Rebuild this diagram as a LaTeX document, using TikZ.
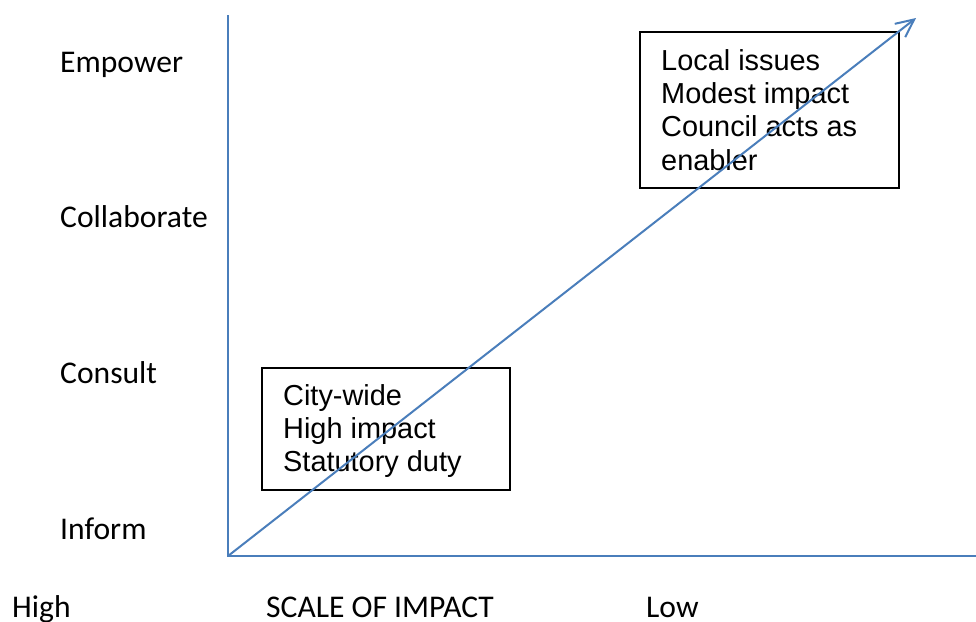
\documentclass[tikz,border=0pt]{standalone}
\usepackage{fontspec}
\setmainfont{Carlito}
\newfontfamily\boxfont{Liberation Sans}
\usetikzlibrary{arrows.meta}
\definecolor{axisblue}{HTML}{4A7EBB}
\tikzset{
  axisline/.style={draw=axisblue, line width=2.4pt},
  diagline/.style={draw=axisblue, line width=2pt, -{Straight Barb[length=18pt,width=17pt,line width=2pt]}},
  levellabel/.style={anchor=base west, inner sep=0pt, font=\fontsize{31.6}{37}\selectfont},
  framebox/.style={draw=black, line width=1.5pt, anchor=north west, inner sep=0pt},
  boxtext/.style={anchor=north west, inner sep=0pt, align=left, font=\boxfont\fontsize{28.9}{33.3}\selectfont}
}
\begin{document}
\begin{tikzpicture}[x=1pt,y=-1pt]
\useasboundingbox (0,0) rectangle (976,621);
\coordinate (origin) at (228,556);
\coordinate (ytop) at (228,15);
\coordinate (xend) at (976,556);
\coordinate (tip) at (916,18);
% boxes
\node[framebox, minimum width=259pt, minimum height=156pt] (boxA) at (639,31) {};
\node[framebox, minimum width=248pt, minimum height=122pt] (boxB) at (261,367) {};
\node[boxtext] (textA) at (661,49) {Local issues\\Modest impact\\Council acts as\\enabler};
\node[boxtext] (textB) at (283,384) {City-wide\\High impact\\Statutory duty};
% axes
\draw[axisline] (ytop) -- (origin) -- (xend);
\draw[diagline] (origin) -- (tip);
% level labels
\node[levellabel] (empower) at (60,72) {Empower};
\node[levellabel] (collab) at (60,227) {Collaborate};
\node[levellabel] (consult) at (60,383) {Consult};
\node[levellabel] (inform) at (60,539) {Inform};
% bottom labels
\node[levellabel] (high) at (12,617) {High};
\node[levellabel] (scale) at (266,617) {SCALE OF IMPACT};
\node[levellabel] (low) at (646,617) {Low};
\end{tikzpicture}
\end{document}
